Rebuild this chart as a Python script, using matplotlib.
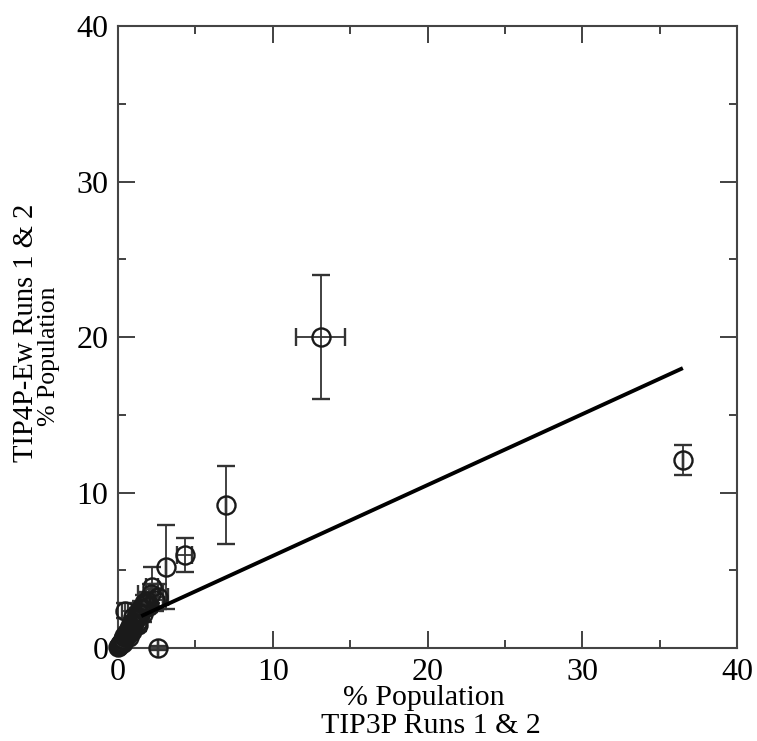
import matplotlib
matplotlib.use("Agg")
import matplotlib.pyplot as plt
from matplotlib.ticker import MultipleLocator

# Population of each cluster (%) in the two water models
tip3p = [13.1, 36.5, 7.0, 4.3, 3.1, 2.6, 2.2, 2.6, 2.4, 2.1, 1.9, 1.8, 1.7,
         1.6, 1.5, 1.4, 1.3, 1.25, 1.2, 1.1, 1.0, 0.95, 0.9, 0.85, 0.8, 0.75,
         0.7, 0.65, 0.6, 0.55, 0.5, 0.45, 0.4, 0.35, 0.3, 0.25, 0.2, 0.15,
         0.1, 0.05, 0.02, 0.45, 1.0, 1.3, 1.6, 2.0, 0.7, 0.3, 0.9, 1.2]
tip4pew = [20.0, 12.1, 9.2, 6.0, 5.2, 0.0, 3.9, 3.3, 3.1, 3.5, 3.0, 2.8, 2.9,
           2.5, 2.6, 2.2, 2.3, 1.9, 2.0, 1.8, 1.7, 1.5, 1.6, 1.3, 1.4, 1.1,
           1.2, 1.0, 1.05, 0.8, 0.9, 0.7, 0.75, 0.5, 0.6, 0.4, 0.35, 0.25,
           0.2, 0.1, 0.05, 2.4, 2.0, 1.5, 2.2, 2.7, 0.7, 0.3, 1.1, 1.6]
tip3p_err = [1.6, 0.0, 0.0, 0.5, 0.0, 0.0, 0.4, 0.6, 0.5, 0.8, 0.4, 0.3, 0.3,
             0.3, 0.2, 0.2, 0.2, 0.2, 0.1, 0.1, 0.1, 0.2, 0.1, 0.1, 0.1, 0.05,
             0.05, 0.05, 0.05, 0.05, 0.05, 0.05, 0.05, 0.05, 0.05, 0.05, 0.05,
             0.05, 0.05, 0.05, 0.05, 0.2, 0.2, 0.3, 0.4, 0.3, 0.1, 0.05, 0.1,
             0.2]
tip4pew_err = [4.0, 0.95, 2.5, 1.1, 2.7, 0.1, 1.3, 0.8, 0.7, 0.6, 0.6, 0.5,
               0.5, 0.4, 0.4, 0.3, 0.3, 0.3, 0.2, 0.2, 0.2, 0.3, 0.2, 0.1, 0.1,
               0.1, 0.1, 0.1, 0.1, 0.1, 0.1, 0.1, 0.1, 0.1, 0.1, 0.1, 0.05,
               0.05, 0.05, 0.05, 0.05, 0.5, 0.4, 0.4, 0.5, 0.4, 0.2, 0.1, 0.2,
               0.3]

# Linear fit through the data
fit_x = [1.5, 36.5]
fit_y = [2.05, 18.0]

ticks = [0, 10, 20, 30, 40]

plt.rcParams["font.family"] = ["Liberation Serif", "DejaVu Serif"]

W, H = 757, 741
fig = plt.figure(figsize=(W / 100, H / 100), dpi=100)
ax = fig.add_axes([0.1559, 0.1255, 0.8177, 0.8394])

ax.errorbar(tip3p, tip4pew, xerr=tip3p_err, yerr=tip4pew_err,
            fmt="o", ms=13, mfc="none", mec="#1a1a1a", mew=1.7,
            ecolor="#333333", elinewidth=1.3, capsize=6.5, capthick=1.3,
            clip_on=False, zorder=3)
ax.plot(fit_x, fit_y, color="black", lw=2.8, solid_capstyle="butt", zorder=4)

ax.set_xlim(0, 40)
ax.set_ylim(0, 40)
ax.set_xticks(ticks)
ax.set_yticks(ticks)
ax.xaxis.set_minor_locator(MultipleLocator(5))
ax.yaxis.set_minor_locator(MultipleLocator(5))
ax.tick_params(which="both", direction="in", top=True, right=True,
               color="#333333", width=1.3, labelsize=23)
ax.tick_params(which="major", length=12, pad=7)
ax.tick_params(which="minor", length=6)
for s in ax.spines.values():
    s.set_linewidth(1.5)
    s.set_color("#444444")

# Two-line axis titles, each line placed on its own baseline
def px(x, y):
    return x / W, 1 - y / H

fig.text(*px(424, 705), "% Population", fontsize=21.5,
         ha="center", va="baseline")
fig.text(*px(431, 733), "TIP3P Runs 1 & 2", fontsize=21.5,
         ha="center", va="baseline")
fig.text(*px(33, 333), "TIP4P-Ew Runs 1 & 2", fontsize=20.6, rotation=90,
         rotation_mode="anchor", ha="center", va="baseline")
fig.text(*px(55, 356), "% Population", fontsize=18.5, rotation=90,
         rotation_mode="anchor", ha="center", va="baseline")

fig.savefig("out.png", dpi=100)
